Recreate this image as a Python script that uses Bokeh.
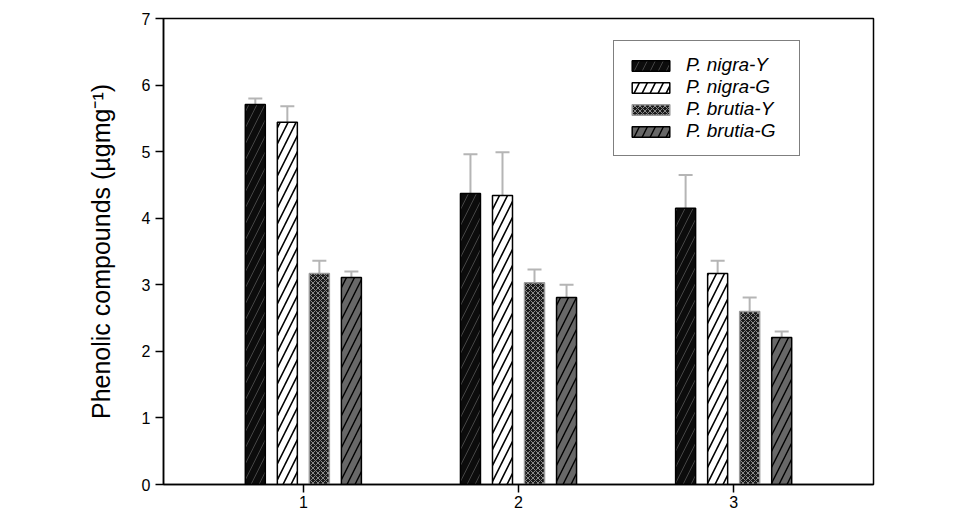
from bokeh.plotting import figure
from bokeh.models import (ColumnDataSource, Whisker, TeeHead, Legend, LegendItem,
                          FixedTicker, Range1d)
from bokeh.embed import file_html
from bokeh.resources import INLINE

# ---- data ----
groups = [1, 2, 3]
series_names = ["P. nigra-Y", "P. nigra-G", "P. brutia-Y", "P. brutia-G"]
nigra_y = [5.71, 4.37, 4.15]
nigra_y_err = [0.09, 0.59, 0.50]
nigra_g = [5.44, 4.34, 3.17]
nigra_g_err = [0.24, 0.65, 0.19]
brutia_y = [3.17, 3.03, 2.60]
brutia_y_err = [0.19, 0.20, 0.21]
brutia_g = [3.11, 2.81, 2.21]
brutia_g_err = [0.09, 0.19, 0.09]
y_ticks = [0, 1, 2, 3, 4, 5, 6, 7]

values = [nigra_y, nigra_g, brutia_y, brutia_g]
errors = [nigra_y_err, nigra_g_err, brutia_y_err, brutia_g_err]

# ---- styles ----
offsets = [-0.2233, -0.0744, 0.0744, 0.2233]
bar_w = 0.093
styles = [
    dict(fill_color="#0c0c0c", line_color="black", hatch_pattern="/", hatch_color="#444444",
         hatch_scale=16, hatch_weight=1),
    dict(fill_color="white", line_color="black", hatch_pattern="/", hatch_color="black",
         hatch_scale=16, hatch_weight=1.6),
    dict(fill_color="#1a1a1a", line_color="#9a9a9a", hatch_pattern="x", hatch_color="#8a8a8a",
         hatch_scale=5, hatch_weight=1),
    dict(fill_color="#686868", line_color="black", hatch_pattern="/", hatch_color="black",
         hatch_scale=16, hatch_weight=1.4),
]

FONT = "Liberation Sans"

p = figure(width=960, height=515, output_backend="svg", toolbar_location=None,
           x_range=Range1d(0.35, 3.65), y_range=Range1d(0, 7),
           min_border_left=163, min_border_right=87, min_border_top=18, min_border_bottom=31)
p.xgrid.visible = False
p.ygrid.visible = False
p.outline_line_color = "black"
p.outline_line_width = 1.5
p.background_fill_color = "white"
p.border_fill_color = "white"

items = []
for name, vals, errs, off, st in zip(series_names, values, errors, offsets, styles):
    xs = [g + off for g in groups]
    src = ColumnDataSource(dict(x=xs, top=vals, upper=[v + e for v, e in zip(vals, errs)]))
    r = p.vbar(x="x", top="top", width=bar_w, bottom=0, source=src, line_width=1.5, **st)
    w = Whisker(base="x", lower="top", upper="upper", source=src, dimension="height",
                line_color="#b5b5b5", line_width=2,
                upper_head=TeeHead(size=14, line_color="#b5b5b5", line_width=2),
                lower_head=None)
    p.add_layout(w)
    items.append(LegendItem(label=name, renderers=[r]))

legend = Legend(items=items, location=(450, 328))
legend.label_text_font = FONT
legend.label_text_font_style = "italic"
legend.label_text_font_size = "19px"
legend.label_text_color = "black"
legend.glyph_width = 47
legend.glyph_height = 13
legend.label_height = 20
legend.label_standoff = 12
legend.label_width = 100
legend.spacing = 0
legend.padding = 13
legend.border_line_color = "black"
legend.border_line_width = 1.5
legend.background_fill_color = "white"
legend.background_fill_alpha = 1
p.add_layout(legend)

p.xaxis.ticker = FixedTicker(ticks=groups)
p.yaxis.ticker = FixedTicker(ticks=y_ticks)
for ax in (p.xaxis, p.yaxis):
    ax.major_label_text_font = FONT
    ax.major_label_text_font_size = "16px"
    ax.major_label_text_color = "black"
    ax.axis_line_color = "black"
    ax.axis_line_width = 1.5
    ax.major_tick_line_color = "black"
    ax.major_tick_line_width = 1.5
    ax.major_tick_out = 8
    ax.major_tick_in = 0
    ax.minor_tick_line_color = None
p.xaxis.major_label_standoff = 3
p.yaxis.major_label_standoff = 5
p.yaxis.axis_label = "Phenolic compounds (µgmg⁻¹)"
p.yaxis.axis_label_text_font = FONT
p.yaxis.axis_label_text_font_size = "25px"
p.yaxis.axis_label_text_font_style = "normal"
p.yaxis.axis_label_text_color = "black"
p.yaxis.axis_label_standoff = 24

open("out.html", "w").write(file_html(p, INLINE))
